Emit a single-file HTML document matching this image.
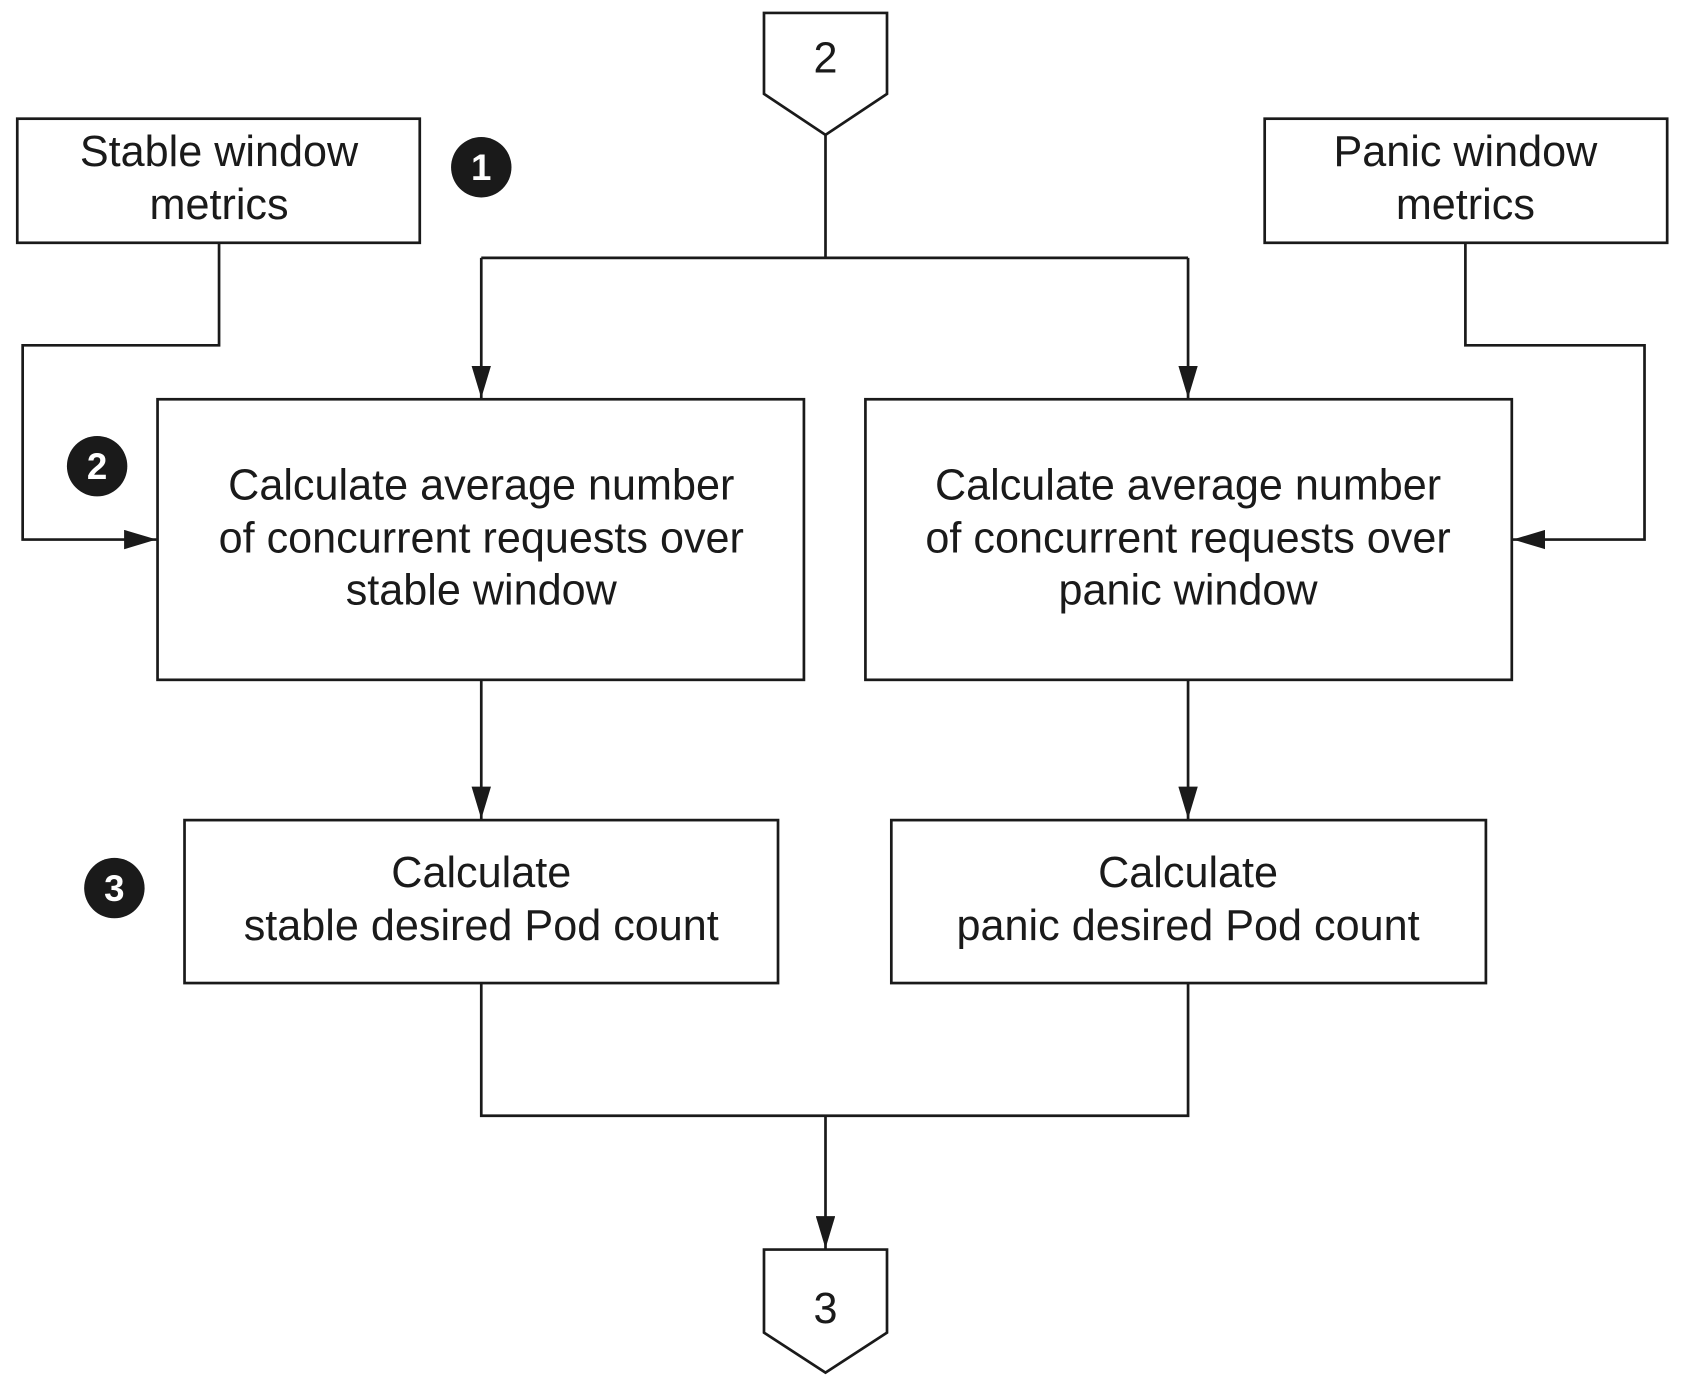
<!DOCTYPE html>
<html><head><meta charset="utf-8"><style>
html,body{margin:0;padding:0;background:#fff;width:1692px;height:1378px;overflow:hidden}
svg{display:block}
text{font-family:"Liberation Sans",Arial,sans-serif;font-size:40px;fill:#1a1a1a;text-anchor:middle}
.n{fill:#fff;font-size:34px;font-weight:bold}
</style></head><body>
<svg width="1692" height="1378" viewBox="0 0 1568 1277" preserveAspectRatio="none" xmlns="http://www.w3.org/2000/svg">
<defs>
<marker id="b" markerWidth="32" markerHeight="18" refX="30" refY="9" orient="auto" markerUnits="userSpaceOnUse"><path d="M0,0 L30,9 L0,18 Z" fill="#1a1a1a"/></marker></defs>
<g fill="none" stroke="#1a1a1a" stroke-width="2.5">
<path d="M708,12 H822 V87 L765,125 L708,87 Z" fill="#fff"/>
<path d="M708,1158 H822 V1235 L765,1272 L708,1235 Z" fill="#fff"/>
<rect x="16" y="110" width="373" height="115"/>
<rect x="1172" y="110" width="373" height="115"/>
<rect x="146" y="370" width="599" height="260"/>
<rect x="802" y="370" width="599" height="260"/>
<rect x="171" y="760" width="550" height="151"/>
<rect x="826" y="760" width="551" height="151"/>
<path d="M765,125 V239 M446,239 H1101"/>
<path d="M446,239 V369" marker-end="url(#b)"/>
<path d="M1101,239 V369" marker-end="url(#b)"/>
<path d="M203,225 V320 H21 V500 H145" marker-end="url(#b)"/>
<path d="M1358,225 V320 H1524 V500 H1402" marker-end="url(#b)"/>
<path d="M446,630 V759" marker-end="url(#b)"/>
<path d="M1101,630 V759" marker-end="url(#b)"/>
<path d="M446,911 V1034 H1101 V911"/>
<path d="M765,1034 V1157" marker-end="url(#b)"/>
</g>
<circle cx="446" cy="155" r="28" fill="#1a1a1a"/><text class="n" x="446" y="167">1</text>
<circle cx="90" cy="432" r="28" fill="#1a1a1a"/><text class="n" x="90" y="444">2</text>
<circle cx="106" cy="823" r="28" fill="#1a1a1a"/><text class="n" x="106" y="835">3</text>
<text x="765" y="67">2</text>
<text x="765" y="1226">3</text>
<text x="203" y="154">Stable window</text>
<text x="203" y="203">metrics</text>
<text x="1358" y="154">Panic window</text>
<text x="1358" y="203">metrics</text>
<text x="446" y="463">Calculate average number</text>
<text x="446" y="512">of concurrent requests over</text>
<text x="446" y="560">stable window</text>
<text x="1101" y="463">Calculate average number</text>
<text x="1101" y="512">of concurrent requests over</text>
<text x="1101" y="560">panic window</text>
<text x="446" y="822">Calculate</text>
<text x="446" y="871">stable desired Pod count</text>
<text x="1101" y="822">Calculate</text>
<text x="1101" y="871">panic desired Pod count</text>
</svg>
</body></html>
